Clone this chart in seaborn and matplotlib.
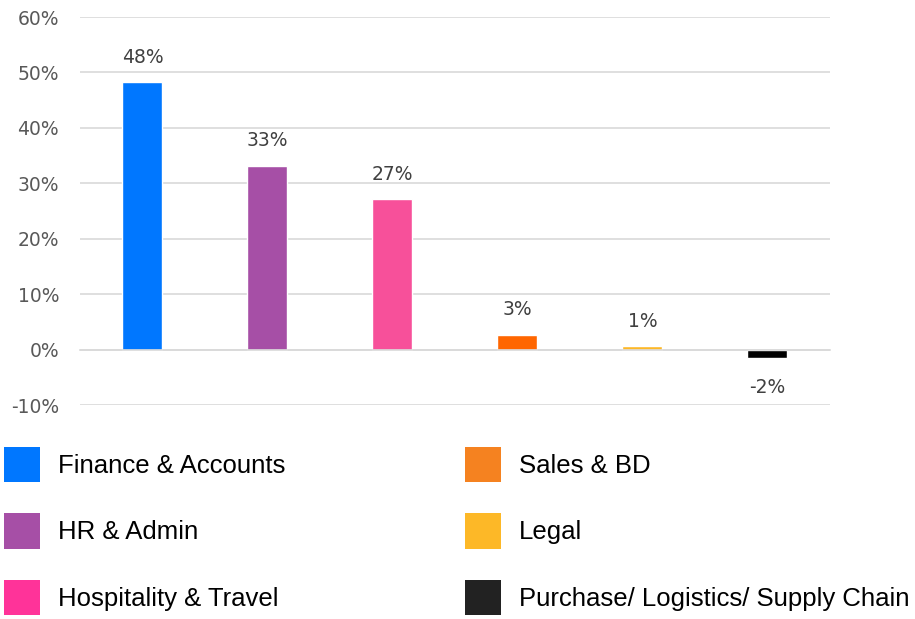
import numpy as np
import pandas as pd
import matplotlib.pyplot as plt
import seaborn as sns
from matplotlib.patches import Patch

sns.set_theme(style="white")
plt.rcParams['font.family'] = ['DejaVu Sans']

# 数据
categories = ["Finance & Accounts", "HR & Admin", "Hospitality & Travel",
              "Sales & BD", "Legal", "Purchase/ Logistics/ Supply Chain"]
values = [48.2, 33.2, 27.1, 2.7, 0.6, -1.6]
bar_colors = ["#0077FF", "#A64FA6", "#F7509A", "#FF6600", "#FDB827", "#000000"]
legend_colors = ["#0077FF", "#A64FA6", "#FF3399", "#F58220", "#FDB827", "#222222"]
yticks = [-10, 0, 10, 20, 30, 40, 50, 60]

df = pd.DataFrame({"cat": categories, "val": values})

fig = plt.figure(figsize=(9.15, 6.19), dpi=100)
ax = fig.add_axes([0.0874, 0.3457, 0.8197, 0.6268])

sns.barplot(data=df, x="cat", y="val", hue="cat", palette=bar_colors,
            width=0.32, legend=False, ax=ax, saturation=1)

ax.set_ylim(-10, 60)
ax.set_xlim(-0.5, len(categories) - 0.5)
ax.set_yticks(yticks)
ax.set_yticklabels([f"{t}%" for t in yticks], fontsize=13.5, color="#595959")
ax.yaxis.grid(True, color="#d9d9d9", linewidth=1.2)
ax.set_axisbelow(True)
ax.tick_params(axis="y", length=0, pad=15)

# x轴在0处，类别分隔刻度
for s in ["top", "right", "left"]:
    ax.spines[s].set_visible(False)
ax.spines["bottom"].set_position(("data", 0))
ax.spines["bottom"].set_color("#d9d9d9")
ax.spines["bottom"].set_linewidth(1.2)
ax.set_xticks(np.arange(-0.5, len(categories), 1.0))
ax.set_xticklabels([])
ax.tick_params(axis="x", direction="out", length=6, color="#d9d9d9", width=1.2)
ax.set_xlabel("")
ax.set_ylabel("")

# 数值标签
for i, v in enumerate(values):
    off = 11 if v >= 0 else -14
    ax.annotate(f"{v:.0f}%", (i, v), xytext=(0, off), textcoords="offset points",
                ha="center", va="bottom" if v >= 0 else "top",
                fontsize=13.5, color="#404040")

# 图例
handles = [Patch(facecolor=c, edgecolor="none") for c in legend_colors]
fig.legend(handles, categories, ncols=2, loc="upper left",
           bbox_to_anchor=(0.004, 0.278), frameon=False,
           prop={"family": "Liberation Sans", "size": 18.5},
           labelcolor="#000000",
           handlelength=1.4, handleheight=1.75,
           handletextpad=0.7, columnspacing=7.0, labelspacing=1.2,
           borderaxespad=0, borderpad=0)

fig.savefig("out.png", dpi=100)
